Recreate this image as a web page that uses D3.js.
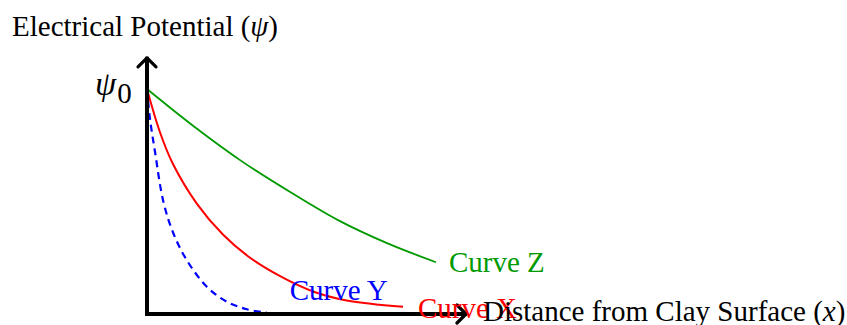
<!DOCTYPE html>
<html>
<head>
<meta charset="utf-8">
<script src="https://cdn.jsdelivr.net/npm/d3@7"></script>
<style>
  body { margin: 0; background: #fff; }
  text { font-family: "Liberation Serif", "Times New Roman", serif; }
</style>
</head>
<body>
<div id="chart"></div>
<script>
// distance from clay surface (arbitrary units) and potential as fraction of psi0
var curveXDist = [0, 0.4, 0.8, 1.55, 2.38, 3.22, 4.16, 5.19, 6.24, 8.0];
var curveXPsi  = [1, 0.81, 0.67, 0.492, 0.352, 0.25, 0.168, 0.1, 0.06, 0.032];

var curveYDist = [0, 0.09, 0.25, 0.51, 0.82, 1.24, 1.87, 2.49, 3.12, 3.74];
var curveYPsi  = [1, 0.871, 0.721, 0.5, 0.36, 0.24, 0.121, 0.055, 0.021, 0.006];

var curveZDist = [0, 1.5, 3, 4.5, 6, 7.5, 9.03];
var curveZPsi  = [1, 0.83, 0.675, 0.54, 0.415, 0.315, 0.230];

var curveNames = ["Curve X", "Curve Y", "Curve Z"];

var width = 847, height = 325;

var svg = d3.select("#chart").append("svg")
    .attr("width", width)
    .attr("height", height);

var x = d3.scaleLinear().domain([0, 10]).range([147, 467]);
var y = d3.scaleLinear().domain([0, 1]).range([314, 89]);
var yTop = 1.143;

var series = [
  { name: curveNames[0], dist: curveXDist, psi: curveXPsi, color: "#ff0000", width: 2, dash: null, dx: 15, dy: 11 },
  { name: curveNames[1], dist: curveYDist, psi: curveYPsi, color: "#0000ff", width: 2.2, dash: "7,5", dx: 23, dy: -13 },
  { name: curveNames[2], dist: curveZDist, psi: curveZPsi, color: "#009a00", width: 1.8, dash: null, dx: 13, dy: 10 }
];

var line = d3.line()
    .x(function (d) { return x(d[0]); })
    .y(function (d) { return y(d[1]); })
    .curve(d3.curveCatmullRom.alpha(0.5));

// draw curves
series.forEach(function (s) {
  var pts = s.dist.map(function (v, i) { return [v, s.psi[i]]; });
  svg.append("path")
      .datum(pts)
      .attr("d", line)
      .attr("fill", "none")
      .attr("stroke", s.color)
      .attr("stroke-width", s.width)
      .attr("stroke-dasharray", s.dash);
});

// axes with open arrow heads
var axisW = 4;
svg.append("line")
    .attr("x1", x(0)).attr("y1", y(0) + 2)
    .attr("x2", x(0)).attr("y2", y(yTop))
    .attr("stroke", "#000").attr("stroke-width", axisW);
svg.append("line")
    .attr("x1", x(0) - 2).attr("y1", y(0))
    .attr("x2", x(10)).attr("y2", y(0))
    .attr("stroke", "#000").attr("stroke-width", axisW);

svg.append("path")
    .attr("d", "M" + (x(0) - 9) + "," + (y(yTop) + 10) + " L" + x(0) + "," + (y(yTop) + 1) +
               " L" + (x(0) + 9) + "," + (y(yTop) + 10))
    .attr("fill", "none").attr("stroke", "#000").attr("stroke-width", 3.2)
    .attr("stroke-linecap", "round").attr("stroke-linejoin", "round");
svg.append("path")
    .attr("d", "M" + (x(10) - 10) + "," + (y(0) - 9) + " L" + (x(10) - 1) + "," + y(0) +
               " L" + (x(10) - 10) + "," + (y(0) + 9))
    .attr("fill", "none").attr("stroke", "#000").attr("stroke-width", 3.2)
    .attr("stroke-linecap", "round").attr("stroke-linejoin", "round");

// curve labels
series.forEach(function (s) {
  var n = s.dist.length - 1;
  svg.append("text")
      .attr("x", x(s.dist[n]) + s.dx)
      .attr("y", y(s.psi[n]) + s.dy)
      .style("font-size", "29px")
      .style("fill", s.color)
      .text(s.name);
});

// axis titles
var yt = svg.append("text")
    .attr("x", 12).attr("y", 36)
    .style("font-size", "29px")
    .style("fill", "#000");
yt.append("tspan").text("Electrical Potential (");
yt.append("tspan").style("font-style", "italic").text("\u03C8");
yt.append("tspan").text(")");

var xt = svg.append("text")
    .attr("x", 483).attr("y", 321)
    .style("font-size", "29px")
    .style("fill", "#000");
xt.append("tspan").text("Distance from Clay Surface (");
xt.append("tspan").style("font-style", "italic").text("x");
xt.append("tspan").text(")");

// psi0 tick label
var p0 = svg.append("text")
    .attr("x", 95).attr("y", y(1) + 6)
    .style("font-size", "34px")
    .style("fill", "#000");
p0.append("tspan").style("font-style", "italic").text("\u03C8");
p0.append("tspan").attr("dy", 8).attr("dx", 1).style("font-size", "29px").text("0");
</script>
</body>
</html>
